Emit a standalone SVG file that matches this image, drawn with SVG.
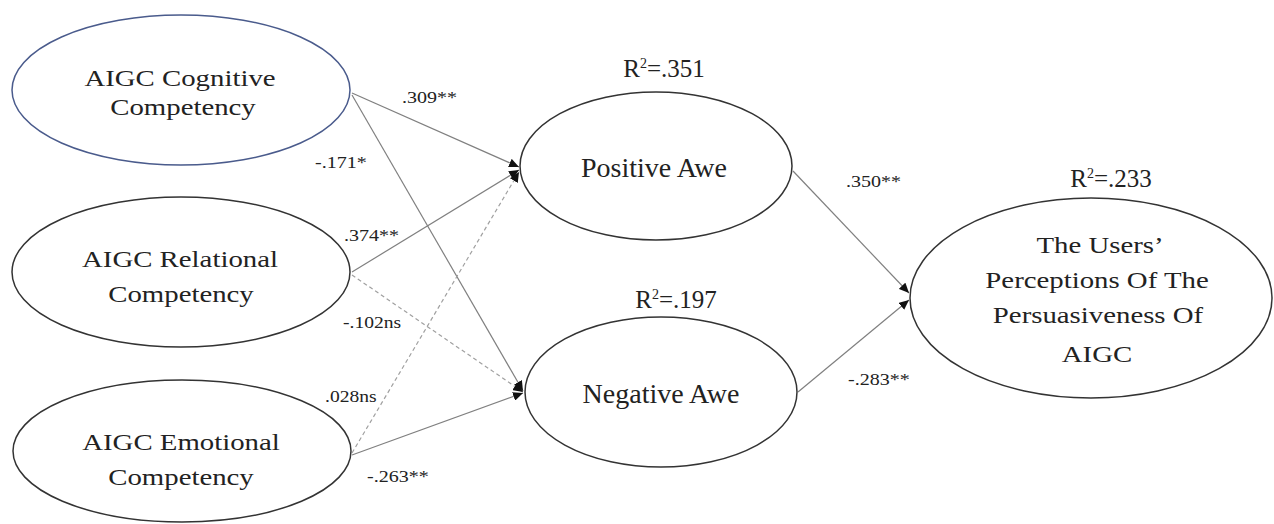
<svg xmlns="http://www.w3.org/2000/svg" width="1274" height="524" viewBox="0 0 1274 524">
<style>
  .node { fill: #ffffff; stroke: #333333; stroke-width: 1.5; }
  .blue { stroke: #4a5b8c; }
  .t { font-family: "Liberation Serif", "Times New Roman", serif; fill: #222222; text-anchor: middle; }
  .big { font-size: 28px; }
  .lab { font-size: 24px; }
  .r2 { font-size: 25px; }
  .coef { font-family: "Liberation Serif", "Times New Roman", serif; fill: #222222; font-size: 17px; }
  .edge { stroke: #808080; stroke-width: 1.2; fill: none; marker-end: url(#arr); }
  .dash { stroke: #a0a0a0; stroke-dasharray: 4 3; }
</style>
<defs>
  <marker id="arr" markerWidth="11" markerHeight="9" refX="10" refY="4.5" orient="auto" markerUnits="userSpaceOnUse">
    <path d="M0,0 L10,4.5 L0,9 z" fill="#111111"/>
  </marker>
</defs>
<rect width="1274" height="524" fill="#ffffff"/>

<g id="connectors">
  <line class="edge" x1="352" y1="93" x2="519" y2="167"/>
  <line class="edge" x1="352" y1="95" x2="523" y2="391"/>
  <line class="edge" x1="352" y1="272" x2="519" y2="170"/>
  <line class="edge dash" x1="352" y1="275" x2="523" y2="392"/>
  <line class="edge dash" x1="352" y1="453" x2="519" y2="172"/>
  <line class="edge" x1="352" y1="455" x2="523" y2="393"/>
  <line class="edge" x1="793" y1="171" x2="909" y2="293"/>
  <line class="edge" x1="798" y1="392" x2="909" y2="300"/>
  <text class="coef" transform="translate(402,103) scale(1.18,1)">.309**</text>
  <text class="coef" transform="translate(315,168) scale(1.18,1)">-.171*</text>
  <text class="coef" transform="translate(344,241) scale(1.18,1)">.374**</text>
  <text class="coef" transform="translate(343,328) scale(1.15,1)">-.102ns</text>
  <text class="coef" transform="translate(325,402) scale(1.15,1)">.028ns</text>
  <text class="coef" transform="translate(367,482) scale(1.18,1)">-.263**</text>
  <text class="coef" transform="translate(846,187) scale(1.18,1)">.350**</text>
  <text class="coef" transform="translate(848,385) scale(1.18,1)">-.283**</text>
</g>

<g id="cognitive">
  <ellipse class="node blue" cx="181" cy="90" rx="169" ry="75"/>
  <text class="t lab" transform="translate(180,86) scale(1.2,1)">AIGC Cognitive</text>
  <text class="t lab" transform="translate(183,115) scale(1.2,1)">Competency</text>
</g>

<g id="relational">
  <ellipse class="node" cx="181" cy="272" rx="169" ry="75"/>
  <text class="t lab" transform="translate(180,267) scale(1.2,1)">AIGC Relational</text>
  <text class="t lab" transform="translate(181,302) scale(1.2,1)">Competency</text>
</g>

<g id="emotional">
  <ellipse class="node" cx="182" cy="451" rx="169" ry="71"/>
  <text class="t lab" transform="translate(181,450) scale(1.2,1)">AIGC Emotional</text>
  <text class="t lab" transform="translate(181,485) scale(1.2,1)">Competency</text>
</g>

<g id="positive">
  <ellipse class="node" cx="656" cy="166" rx="136" ry="74"/>
  <text class="t big" x="654" y="177">Positive Awe</text>
  <text class="t r2" x="664" y="77">R<tspan font-size="14" dy="-9">2</tspan><tspan dy="9">=.351</tspan></text>
</g>

<g id="negative">
  <ellipse class="node" cx="661" cy="392" rx="136" ry="75"/>
  <text class="t big" x="661" y="403">Negative Awe</text>
  <text class="t r2" x="676" y="308">R<tspan font-size="14" dy="-9">2</tspan><tspan dy="9">=.197</tspan></text>
</g>

<g id="outcome">
  <ellipse class="node" cx="1091" cy="298" rx="181" ry="100"/>
  <text class="t r2" x="1111" y="187">R<tspan font-size="14" dy="-9">2</tspan><tspan dy="9">=.233</tspan></text>
  <text class="t lab" transform="translate(1100,253) scale(1.2,1)">The Users’</text>
  <text class="t lab" transform="translate(1097,288) scale(1.2,1)">Perceptions Of The</text>
  <text class="t lab" transform="translate(1098,323) scale(1.2,1)">Persuasiveness Of</text>
  <text class="t lab" transform="translate(1097,362) scale(1.2,1)">AIGC</text>
</g>
</svg>
